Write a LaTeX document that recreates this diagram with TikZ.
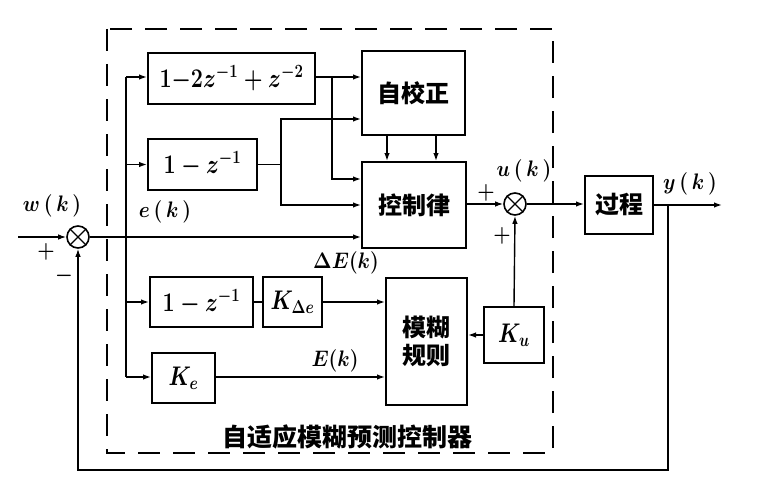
\documentclass[tikz,border=0pt]{standalone}
\usepackage{amsmath}
\usepackage{graphicx}
\usepackage{fontspec}
\newfontfamily\cjk{Noto Sans CJK SC}
\newcommand{\mybx}[1]{\scalebox{1.04}[1.3]{\boldmath$#1$}}
\newcommand{\mylb}[1]{\scalebox{1.15}[1.3]{\boldmath$#1$}}
\usetikzlibrary{arrows.meta}
\begin{document}
\begin{tikzpicture}[x=1pt,y=-1pt,
  blk/.style={draw,line width=2pt,inner sep=0pt,anchor=center},
  conn/.style={line width=1.4pt},
  arr/.style={line width=1.4pt,-{Latex[length=8pt,width=5.5pt]}},
  sumj/.style={draw,circle,line width=1.6pt,minimum size=22pt,inner sep=0pt},
  cn/.style={font=\cjk\bfseries\fontsize{24}{28}\selectfont},
  mt/.style={font=\fontsize{20.74}{24}\selectfont},
  lb/.style={font=\fontsize{17.28}{21}\selectfont}]
\useasboundingbox (0,0) rectangle (771,503);
% dashed controller frame
\draw[line width=1.4pt,dash pattern=on 22pt off 13pt] (107,29) rectangle (553,453);
% blocks
\node[blk,minimum width=167pt,minimum height=51pt,mt] (A) at (231.5,78.5) {\mybx{1{-}2z^{-1}+z^{-2}}};
\node[blk,minimum width=109pt,minimum height=51pt,mt] (B) at (202.5,164.5) {\mybx{1-z^{-1}}};
\node[blk,minimum width=103pt,minimum height=84pt,cn] (S) at (413.5,93) {自校正};
\node[blk,minimum width=104pt,minimum height=86pt,cn] (C) at (414,205) {控制律};
\node[blk,minimum width=103pt,minimum height=50pt,mt] (D) at (201.5,302) {\mybx{1-z^{-1}}};
\node[blk,minimum width=59pt,minimum height=50pt,mt] (KD) at (292.5,302) {\mybx{K_{\Delta e}}};
\node[blk,minimum width=63pt,minimum height=50pt,mt] (KE) at (183.5,378) {\mybx{K_{e}}};
\node[blk,minimum width=81pt,minimum height=127pt,cn,align=center] (F) at (426.5,341.5) {模糊\\规则};
\node[blk,minimum width=60pt,minimum height=56pt,mt] (KU) at (514,335) {\mybx{K_{u}}};
\node[blk,minimum width=68pt,minimum height=58pt,cn] (P) at (619,205) {过程};
% summing junctions
\node[sumj] (S1) at (78,237) {};
\draw[line width=1.3pt] (S1.north west) -- (S1.south east) (S1.north east) -- (S1.south west);
\node[sumj] (S2) at (515,204) {};
\draw[line width=1.3pt] (S2.north west) -- (S2.south east) (S2.north east) -- (S2.south west);
% coordinates
\coordinate (win) at (18,237);
\coordinate (bt) at (126,77);
\coordinate (bb) at (126,377);
\coordinate (yout) at (722,205);
\coordinate (yb) at (668,205);
% input
\draw[arr] (win) -- (S1.west);
\draw[arr] (S1.east) -- (C.west |- S1);
% bus
\draw[conn] (bt) -- (bb);
\draw[arr] (bt) -- (A.west |- bt);
\draw[arr] (126,164.5) -- (B.west);
\draw[arr] (126,302) -- (D.west);
\draw[arr] (bb) -- (KE.west |- bb);
% A outputs
\draw[arr] (A.east |- 0,77) -- (S.west |- 0,77);
\draw[arr] (332,77) -- (332,179) -- (C.west |- 0,179);
% B outputs
\draw[conn] (B.east) -- (281,164.5);
\draw[arr] (281,164.5) |- (S.west |- 0,119);
\draw[arr] (281,164.5) |- (C.west |- 0,205);
% self-tuning to control law
\draw[arr] (S.south -| 387,0) -- (C.north -| 387,0);
\draw[arr] (S.south -| 436,0) -- (C.north -| 436,0);
% lower path
\draw[conn] (D.east) -- (KD.west);
\draw[arr] (KD.east) -- (F.west |- KD.east);
\draw[arr] (KE.east |- bb) -- (F.west |- bb);
\draw[arr] (KU.west) -- (F.east |- KU.west);
\draw[arr] (KU.north) -- (S2.south);
% control law to sum2 to process
\draw[arr] (C.east |- S2) -- (S2.west);
\draw[arr] (S2.east) -- (P.west |- S2);
\draw[arr] (P.east) -- (yout);
% feedback
\draw[arr] (yb) -- (668,470) -- (78,470) -- (S1.south);
% labels
\node[lb] (lw) at (52,206) {\mylb{w\,(\,k\,)}};
\node[lb] (lp1) at (46,252) {\mylb{+}};
\node[lb] (lm1) at (64,276) {\mylb{-}};
\node[lb] (le) at (165,212) {\mylb{e\,(\,k\,)}};
\node[lb] (lu) at (524,171) {\mylb{u\,(\,k\,)}};
\node[lb] (lp2) at (486,193) {\mylb{+}};
\node[lb] (lp3) at (502,236) {\mylb{+}};
\node[lb] (ly) at (690,184) {\mylb{y\,(\,k\,)}};
\node[lb] (ldE) at (346,263) {\mylb{\Delta E(k)}};
\node[lb] (lE) at (335,361) {\mylb{E(k)}};
\node[cn,font=\cjk\bfseries\fontsize{25}{28}\selectfont] (title) at (347,437) {自适应模糊预测控制器};
\end{tikzpicture}
\end{document}
